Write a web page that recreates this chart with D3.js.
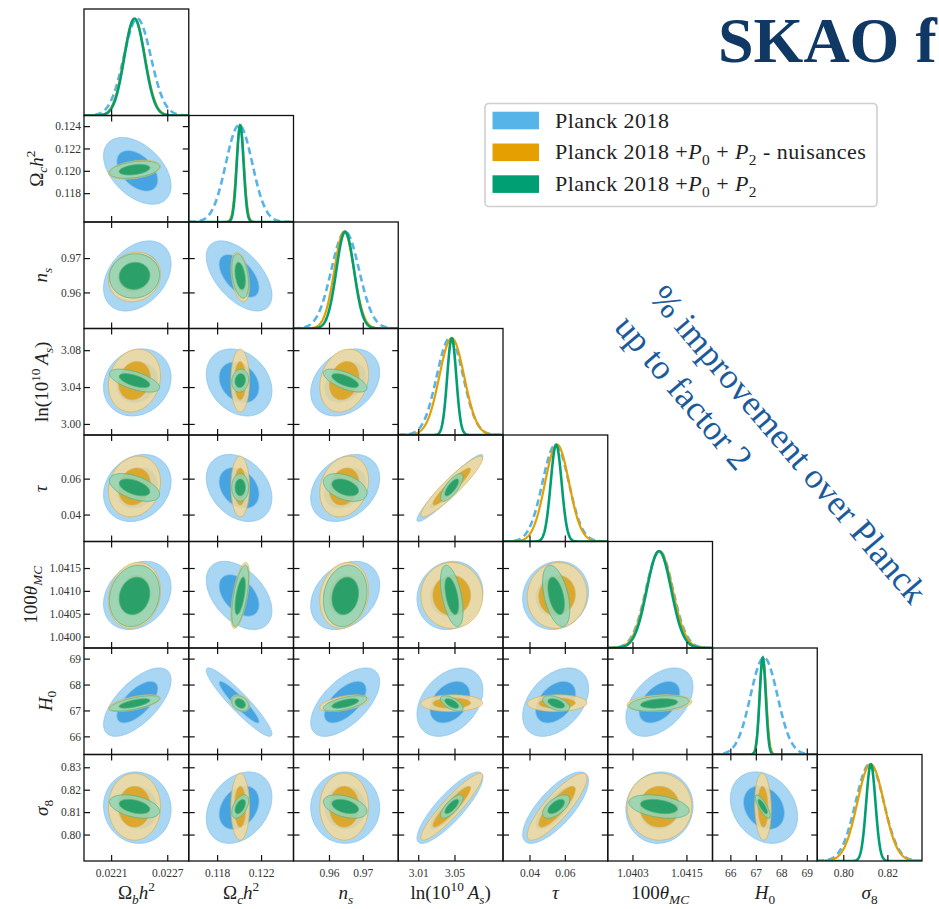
<!DOCTYPE html>
<html>
<head>
<meta charset="utf-8">
<script src="https://cdn.jsdelivr.net/npm/d3@7"></script>
<style>
  html, body { margin: 0; padding: 0; background: #ffffff; }
  svg { display: block; }
</style>
</head>
<body>
<svg id="chart" width="939" height="909"></svg>
<script>
// ---------------------------------------------------------------------------
// Parameters (order of the triangle) and their plotting ranges
// ---------------------------------------------------------------------------
const paramNames = ["omegabh2", "omegach2", "ns", "logA", "tau", "theta", "H0", "sigma8"];
const paramRanges = [
  [0.02181, 0.02293],
  [0.11542, 0.12495],
  [0.9495, 0.9805],
  [2.988, 3.1035],
  [0.0250, 0.0843],
  [1.03975, 1.04208],
  [65.30, 69.41],
  [0.7882, 0.8357]
];

// Tick values / labels along the bottom (x) and left (y) axes
const xTickValues = [
  [0.0221, 0.0227], [0.118, 0.122], [0.96, 0.97], [3.01, 3.05],
  [0.04, 0.06], [1.0403, 1.0415], [66, 67, 68, 69], [0.80, 0.82]
];
const xTickLabels = [
  ["0.0221", "0.0227"], ["0.118", "0.122"], ["0.96", "0.97"], ["3.01", "3.05"],
  ["0.04", "0.06"], ["1.0403", "1.0415"], ["66", "67", "68", "69"], ["0.80", "0.82"]
];
const yTickValues = [
  [], [0.118, 0.120, 0.122, 0.124], [0.96, 0.97], [3.00, 3.04, 3.08],
  [0.04, 0.06], [1.0400, 1.0405, 1.0410, 1.0415], [66, 67, 68, 69], [0.80, 0.81, 0.82, 0.83]
];
const yTickLabels = [
  [], ["0.118", "0.120", "0.122", "0.124"], ["0.96", "0.97"], ["3.00", "3.04", "3.08"],
  ["0.04", "0.06"], ["1.0400", "1.0405", "1.0410", "1.0415"], ["66", "67", "68", "69"],
  ["0.80", "0.81", "0.82", "0.83"]
];

// ---------------------------------------------------------------------------
// Posterior summaries: means, standard deviations, correlations (lower triangle)
// ---------------------------------------------------------------------------
const seriesNames = ["Planck 2018", "Planck 2018 +P0 + P2 - nuisances", "Planck 2018 +P0 + P2"];

const planckMean  = [0.02238, 0.1200, 0.9648, 3.045, 0.0548, 1.04090, 67.32, 0.8120];
const planckSigma = [0.000145, 0.00120, 0.0041, 0.0146, 0.0075, 0.00030, 0.53, 0.0064];
const planckCorr = [
  [],
  [-0.45],
  [0.35, -0.55],
  [0.15, -0.25, 0.30],
  [0.20, -0.30, 0.30, 0.95],
  [0.25, -0.45, 0.30, 0.10, 0.10],
  [0.65, -0.93, 0.60, 0.35, 0.40, 0.45],
  [-0.05, 0.30, 0.00, 0.85, 0.75, 0.05, -0.25]
];

const nuisMean  = [0.02235, 0.1201, 0.9645, 3.047, 0.0556, 1.04090, 67.28, 0.8124];
const nuisSigma = [0.000112, 0.00034, 0.0029, 0.0137, 0.0068, 0.00029, 0.13, 0.0060];
const nuisCorr = [
  [],
  [0.35],
  [0.10, -0.35],
  [0.15, 0.00, 0.20],
  [0.15, 0.00, 0.20, 0.93],
  [0.15, 0.60, 0.15, 0.00, 0.05],
  [0.60, -0.30, 0.50, 0.05, 0.05, 0.20],
  [0.00, 0.00, 0.00, 0.92, 0.85, 0.00, -0.10]
];

const fullMean  = [0.02235, 0.1201, 0.9648, 3.047, 0.0551, 1.04089, 67.27, 0.8125];
const fullSigma = [0.000108, 0.00031, 0.0026, 0.0050, 0.0031, 0.00027, 0.12, 0.0021];
const fullCorr = [
  [],
  [0.35],
  [0.05, -0.35],
  [-0.60, 0.10, -0.65],
  [-0.50, 0.00, -0.40, 0.75],
  [0.15, 0.60, 0.15, -0.50, -0.45],
  [0.65, -0.30, 0.60, -0.60, -0.50, 0.30],
  [-0.40, 0.50, -0.40, 0.75, 0.60, -0.35, -0.80]
];

// Axis titles as rich-text segments (i: italic, sub / sup: shifted)
const axisTitles = [
  [{t: "Ω"}, {t: "b", i: 1, sub: 1}, {t: "h", i: 1}, {t: "2", sup: 1}],
  [{t: "Ω"}, {t: "c", i: 1, sub: 1}, {t: "h", i: 1}, {t: "2", sup: 1}],
  [{t: "n", i: 1}, {t: "s", i: 1, sub: 1}],
  [{t: "ln(10"}, {t: "10", sup: 1}, {t: "\u2009A", i: 1}, {t: "s", i: 1, sub: 1}, {t: ")"}],
  [{t: "τ", i: 1}],
  [{t: "100"}, {t: "θ", i: 1}, {t: "MC", i: 1, sub: 1}],
  [{t: "H", i: 1}, {t: "0", sub: 1}],
  [{t: "σ", i: 1}, {t: "8", sub: 1}]
];

// ---------------------------------------------------------------------------
// Layout and styles
// ---------------------------------------------------------------------------
const FONT = "'Liberation Serif', 'DejaVu Serif', serif";
const L = 84, T = 9, W = 104.75, H = 106.5;
const N = paramNames.length;
const K68 = Math.sqrt(2.2958), K95 = Math.sqrt(6.1801);
const yTitleCenterX = [0, 36.5, 42.5, 41.7, 40, 32.5, 47, 43.3];

const datasets = [
  {mean: planckMean, sigma: planckSigma, corr: planckCorr, alpha: 1,
   outer: "#a9d6f3", inner: "#48a4e0", edge: "#8cc7ee", line: "#56b4e9", width: 2.6, dash: "7,4"},
  {mean: nuisMean, sigma: nuisSigma, corr: nuisCorr, alpha: 0.85,
   outer: "#f3d99c", inner: "#dba118", edge: "#d9b155", line: "#e69f00", width: 2.2, dash: null},
  {mean: fullMean, sigma: fullSigma, corr: fullCorr, alpha: 0.85,
   outer: "#93d4b5", inner: "#16995f", edge: "#52b185", line: "#009e73", width: 2.6, dash: null}
];

const svg = d3.select("#chart");
const defs = svg.append("defs");

function xScale(p, col) {
  return d3.scaleLinear().domain(paramRanges[p]).range([L + col * W, L + (col + 1) * W]);
}
function yScale(p, row) {
  return d3.scaleLinear().domain(paramRanges[p]).range([T + (row + 1) * H, T + row * H]);
}

// Points of a 2D Gaussian iso-probability ellipse
function ellipse(mx, my, sx, sy, rho, k) {
  const c = Math.sqrt(1 - rho * rho);
  return d3.range(0, 360, 2).map(a => {
    const t = a * Math.PI / 180;
    return [mx + k * sx * Math.cos(t), my + k * sy * (rho * Math.cos(t) + c * Math.sin(t))];
  });
}

// Rich text helper (sub/superscripts via dy shifts)
function richText(sel, segs, size) {
  let cur = 0;
  segs.forEach(s => {
    const target = s.sub ? 0.26 * size : (s.sup ? -0.42 * size : 0);
    sel.append("tspan")
      .text(s.t)
      .attr("dy", target - cur)
      .attr("font-size", (s.sub || s.sup) ? size * 0.7 : size)
      .attr("font-style", s.i ? "italic" : "normal");
    cur = target;
  });
}

function styleTicks(g) {
  g.select(".domain").remove();
  g.selectAll(".tick line").attr("stroke", "#111").attr("stroke-width", 1.2);
}

const panels = svg.append("g");
const frames = svg.append("g");

for (let row = 0; row < N; row++) {
  for (let col = 0; col <= row; col++) {
    const x0 = L + col * W, y0 = T + row * H;
    const clipId = `clip-${row}-${col}`;
    defs.append("clipPath").attr("id", clipId)
      .append("rect").attr("x", x0).attr("y", y0).attr("width", W).attr("height", H);
    const body = panels.append("g").attr("clip-path", `url(#${clipId})`);
    const xs = xScale(col, col);

    if (row === col) {
      // 1D marginal densities, normalised to unit peak
      const ys = d3.scaleLinear().domain([0, 1.1]).range([y0 + H, y0]);
      const [lo, hi] = paramRanges[col];
      const grid = d3.range(0, 301).map(i => lo + (hi - lo) * i / 300);
      datasets.forEach(ds => {
        const m = ds.mean[col], s = ds.sigma[col];
        const line = d3.line()
          .x(v => xs(v))
          .y(v => ys(Math.exp(-0.5 * ((v - m) / s) ** 2)));
        body.append("path")
          .attr("d", line(grid))
          .attr("fill", "none")
          .attr("stroke", ds.line)
          .attr("stroke-width", ds.width)
          .attr("stroke-dasharray", ds.dash);
      });
    } else {
      // 2D 68% / 95% filled contours
      const ys = yScale(row, row);
      datasets.forEach(ds => {
        const rho = ds.corr[row][col];
        [[K95, ds.outer], [K68, ds.inner]].forEach(([k, fill]) => {
          const pts = ellipse(ds.mean[col], ds.mean[row], ds.sigma[col], ds.sigma[row], rho, k);
          const path = d3.line().x(d => xs(d[0])).y(d => ys(d[1])).curve(d3.curveLinearClosed);
          body.append("path")
            .attr("d", path(pts))
            .attr("fill", fill)
            .attr("fill-opacity", ds.alpha)
            .attr("stroke", ds.edge)
            .attr("stroke-opacity", ds.alpha)
            .attr("stroke-width", 0.9);
        });
      });
    }

    const fg = frames.append("g");
    // inward ticks: bottom always, the other sides for 2D panels
    fg.append("g").attr("transform", `translate(0,${y0 + H})`)
      .call(d3.axisTop(xs).tickValues(xTickValues[col]).tickSize(6).tickFormat(""))
      .call(styleTicks);
    if (row !== col) {
      const ys = yScale(row, row);
      fg.append("g").attr("transform", `translate(0,${y0})`)
        .call(d3.axisBottom(xs).tickValues(xTickValues[col]).tickSize(6).tickFormat(""))
        .call(styleTicks);
      fg.append("g").attr("transform", `translate(${x0},0)`)
        .call(d3.axisRight(ys).tickValues(yTickValues[row]).tickSize(6).tickFormat(""))
        .call(styleTicks);
      fg.append("g").attr("transform", `translate(${x0 + W},0)`)
        .call(d3.axisLeft(ys).tickValues(yTickValues[row]).tickSize(6).tickFormat(""))
        .call(styleTicks);
    }
    fg.append("rect")
      .attr("x", x0).attr("y", y0).attr("width", W).attr("height", H)
      .attr("fill", "none").attr("stroke", "#111").attr("stroke-width", 1.3);

    // tick labels on the outer edges
    if (row === N - 1) {
      const ax = fg.append("g").attr("transform", `translate(0,${y0 + H})`)
        .call(d3.axisBottom(xs).tickValues(xTickValues[col]).tickSize(0).tickPadding(7.5)
          .tickFormat((d, i) => xTickLabels[col][i]));
      ax.select(".domain").remove();
      ax.selectAll("text").attr("font-family", FONT).attr("font-size", 11.5).attr("fill", "#333");
    }
    if (col === 0 && row > 0) {
      const ys = yScale(row, row);
      const ay = fg.append("g").attr("transform", `translate(${x0},0)`)
        .call(d3.axisLeft(ys).tickValues(yTickValues[row]).tickSize(0).tickPadding(3)
          .tickFormat((d, i) => yTickLabels[row][i]));
      ay.select(".domain").remove();
      ay.selectAll("text").attr("font-family", FONT).attr("font-size", 11.5).attr("fill", "#333");
    }
  }
}

// Axis titles
for (let p = 0; p < N; p++) {
  const t = svg.append("text")
    .attr("x", L + (p + 0.5) * W).attr("y", 899)
    .attr("text-anchor", "middle")
    .attr("font-family", FONT).attr("fill", "#222");
  richText(t, axisTitles[p], 19);
}
for (let p = 1; p < N; p++) {
  const g = svg.append("g");
  const t = g.append("text").attr("font-family", FONT).attr("fill", "#222");
  richText(t, axisTitles[p], 19);
  const bb = t.node().getBBox();
  const cy = T + (p + 0.5) * H;
  g.attr("transform",
    `translate(${yTitleCenterX[p]},${cy}) rotate(-90) translate(${-(bb.x + bb.width / 2)},${-(bb.y + bb.height / 2)})`);
}

// Legend
const lg = svg.append("g");
lg.append("rect")
  .attr("x", 485).attr("y", 103.5).attr("width", 392).attr("height", 103)
  .attr("rx", 4).attr("fill", "#fff").attr("stroke", "#cfcfcf").attr("stroke-width", 1.6);
const legendPatch = ["#56b4e9", "#e69f00", "#009e73"];
const legendSegs = [
  [{t: "Planck 2018"}],
  [{t: "Planck 2018 +"}, {t: "P", i: 1}, {t: "0", sub: 1}, {t: " + "}, {t: "P", i: 1}, {t: "2", sub: 1}, {t: " - nuisances"}],
  [{t: "Planck 2018 +"}, {t: "P", i: 1}, {t: "0", sub: 1}, {t: " + "}, {t: "P", i: 1}, {t: "2", sub: 1}]
];
seriesNames.forEach((name, i) => {
  const yc = 120.5 + i * 31.8;
  lg.append("rect").attr("x", 492.5).attr("y", yc - 8.8).attr("width", 46.5).attr("height", 17.6)
    .attr("fill", legendPatch[i]);
  const t = lg.append("text").attr("x", 555).attr("y", yc + 7)
    .attr("font-family", FONT).attr("fill", "#222").attr("letter-spacing", 0.45);
  richText(t, legendSegs[i], 22);
});

// Headline, cut by the right edge of the page
svg.append("text")
  .attr("x", 718).attr("y", 62)
  .attr("font-family", FONT).attr("font-weight", "bold").attr("font-size", 64)
  .attr("fill", "#0f3865")
  .text("SKAO f");

// Rotated annotation
const ann = svg.append("g").attr("transform", "translate(648,298) rotate(49.5)")
  .attr("font-family", FONT).attr("font-size", 35.5).attr("fill", "#1b5b9c");
ann.append("text").attr("x", 0).attr("y", 0).text("% improvement over Planck");
ann.append("text").attr("x", 0).attr("y", 46).text("up to factor 2");
</script>
</body>
</html>
